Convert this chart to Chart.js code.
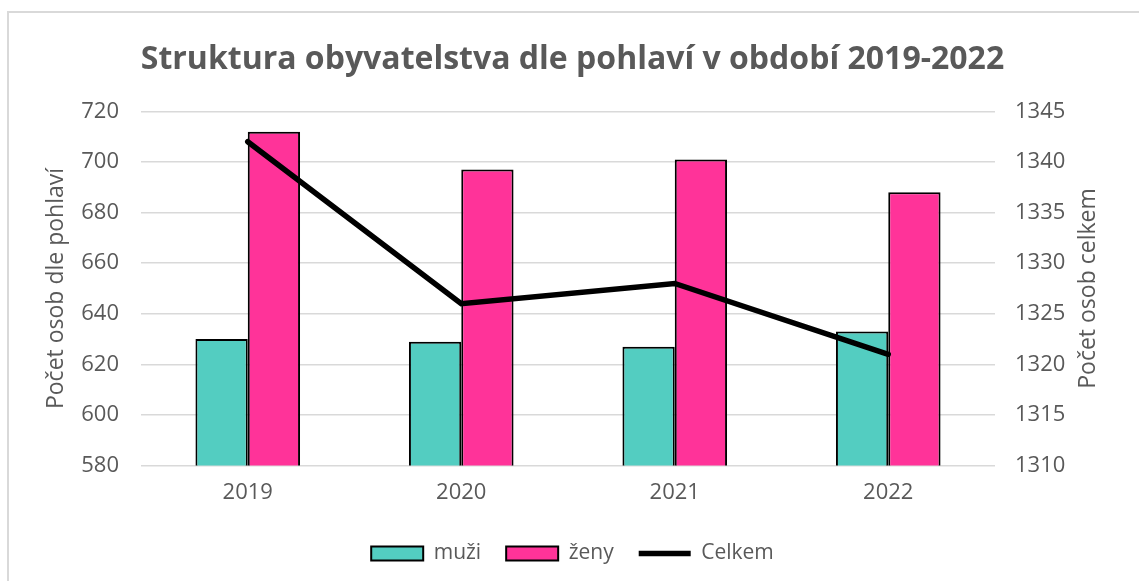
<!DOCTYPE html>
<html lang="cs">
<head>
<meta charset="utf-8">
<title>Struktura obyvatelstva</title>
<script src="https://cdn.jsdelivr.net/npm/chart.js@4"></script>
<style>
  html, body { margin: 0; padding: 0; background: #fff; }
  #obal { position: relative; width: 1139px; height: 581px; }
  #ramecek {
    position: absolute; left: 7px; top: 11px; right: 0; bottom: 0;
    border-left: 2px solid #d9d9d9; border-top: 2px solid #d9d9d9;
    pointer-events: none;
  }
  canvas { position: absolute; left: 0; top: 0; }
</style>
</head>
<body>
<div id="obal">
  <canvas id="graf" width="1139" height="581"></canvas>
  <div id="ramecek"></div>
</div>
<script>
const roky = ['2019', '2020', '2021', '2022'];
const muzi = [630, 629, 627, 633];
const zeny = [712, 697, 701, 688];
const celkem = [1342, 1326, 1328, 1321];

const seda = '#595959';
const pismo = 'Open Sans';
const popisekPravy = 'Počet osob celkem';

// titulek prave osy otoceny stejne jako levy (zdola nahoru)
const pravyTitulek = {
  id: 'pravyTitulek',
  afterDraw(chart) {
    const osa = chart.scales.y1;
    const ctx = chart.ctx;
    ctx.save();
    ctx.translate(osa.right - 17, (chart.chartArea.top + chart.chartArea.bottom) / 2);
    ctx.rotate(-Math.PI / 2);
    ctx.fillStyle = seda;
    ctx.font = '23px "' + pismo + '"';
    ctx.textAlign = 'center';
    ctx.textBaseline = 'middle';
    ctx.fillText(popisekPravy, 0, 0);
    ctx.restore();
  },
};

function configurar() {
  const canvas = document.getElementById('graf');
  if (!(canvas instanceof HTMLCanvasElement)) return;
  // @ts-ignore
  new Chart(canvas, {
    data: {
      labels: roky,
      datasets: [
        {
          type: 'bar',
          label: 'muži',
          data: muzi,
          yAxisID: 'y',
          backgroundColor: '#53cdc1',
          borderColor: '#000',
          borderWidth: 2,
          categoryPercentage: 0.49,
          barPercentage: 1,
          pointStyle: 'rect',
          order: 1,
        },
        {
          type: 'bar',
          label: 'ženy',
          data: zeny,
          yAxisID: 'y',
          backgroundColor: '#ff3399',
          borderColor: '#000',
          borderWidth: 2,
          categoryPercentage: 0.49,
          barPercentage: 1,
          pointStyle: 'rect',
          order: 1,
        },
        {
          type: 'line',
          label: 'Celkem',
          data: celkem,
          yAxisID: 'y1',
          borderColor: '#000',
          backgroundColor: '#000',
          borderWidth: 5.5,
          pointRadius: 0,
          tension: 0,
          pointStyle: 'line',
          borderCapStyle: 'round',
          order: 0,
        },
      ],
    },
    options: {
      responsive: false,
      animation: false,
      layout: { padding: { left: 40, right: 34, top: 0, bottom: 7 } },
      plugins: {
        title: {
          display: true,
          text: 'Struktura obyvatelstva dle pohlaví v období 2019-2022',
          color: seda,
          font: { family: pismo, size: 32, weight: 'bold' },
          padding: { top: 41, bottom: 32 },
        },
        legend: {
          position: 'bottom',
          labels: {
            usePointStyle: true,
            pointStyleWidth: 52,
            boxHeight: 14,
            padding: 25,
            color: seda,
            font: { family: pismo, size: 21 },
            sort: (a, b) => a.datasetIndex - b.datasetIndex,
          },
        },
        tooltip: { enabled: false },
      },
      scales: {
        x: {
          grid: { display: false },
          border: { display: false },
          ticks: { color: seda, font: { family: pismo, size: 22 }, padding: 6 },
          afterFit: (s) => { s.height += 6; },
        },
        y: {
          position: 'left',
          min: 580,
          max: 720,
          ticks: { stepSize: 20, color: seda, font: { family: pismo, size: 22 }, padding: 22 },
          grid: { color: '#d9d9d9', lineWidth: 1.5, drawTicks: false },
          border: { display: false },
          title: {
            display: true,
            text: 'Počet osob dle pohlaví',
            color: seda,
            font: { family: pismo, size: 23 },
            padding: { top: 3, bottom: 3 },
          },
          afterFit: (s) => { s.width = 101; },
        },
        y1: {
          position: 'right',
          min: 1310,
          max: 1345,
          ticks: {
            stepSize: 5,
            color: seda,
            font: { family: pismo, size: 22 },
            padding: 20,
            callback: (v) => String(v),
          },
          grid: { display: false, drawTicks: false },
          border: { display: false },
          afterFit: (s) => { s.width = 110; },
        },
      },
    },
    plugins: [pravyTitulek],
  });
}

document.addEventListener('DOMContentLoaded', configurar);
</script>
</body>
</html>
